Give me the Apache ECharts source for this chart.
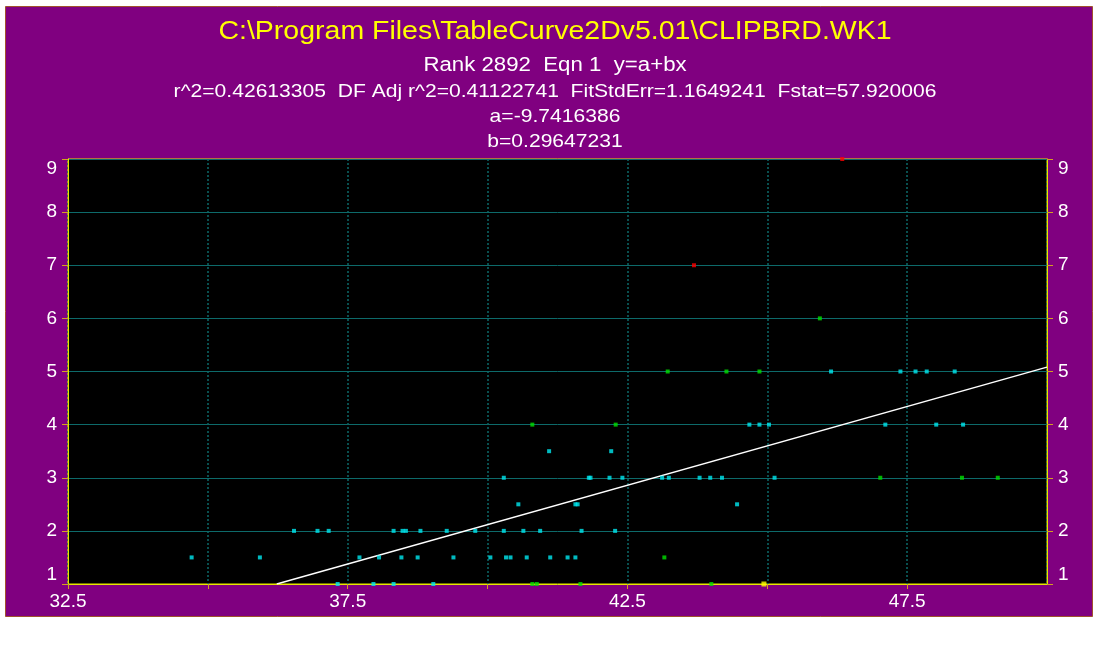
<!DOCTYPE html>
<html>
<head>
<meta charset="utf-8">
<title>CLIPBRD.WK1 fit</title>
<script src="https://cdn.jsdelivr.net/npm/echarts@6/dist/echarts.min.js"></script>
<style>
  html, body { margin: 0; padding: 0; background: #ffffff; }
  #chart { width: 1099px; height: 645px; }
</style>
</head>
<body>
<div id="chart"></div>
<script>
// Axis ranges and ticks
const xMin = 32.5, xMax = 50, xStep = 2.5, xLabelStep = 5;
const yMin = 1, yMax = 9, yStep = 1;

// Header lines
const titleText = 'C:\\Program Files\\TableCurve2Dv5.01\\CLIPBRD.WK1';
const rankText = 'Rank 2892  Eqn 1  y=a+bx';
const statsText = 'r^2=0.42613305  DF Adj r^2=0.41122741  FitStdErr=1.1649241  Fstat=57.920006';

// Fitted linear coefficients y = a + b x
const fitA = -9.7416386;
const fitB = 0.29647231;

// Data points grouped by marker colour, [x, y]
const cyanPoints = [
  [34.71, 1.5], [35.93, 1.5], [37.71, 1.5], [38.06, 1.5], [38.46, 1.5], [38.75, 1.5],
  [39.39, 1.5], [40.05, 1.5], [40.33, 1.5], [40.41, 1.5], [40.70, 1.5], [41.12, 1.5],
  [41.43, 1.5], [41.57, 1.5],
  [36.54, 2], [36.96, 2], [37.16, 2], [38.32, 2], [38.48, 2], [38.54, 2], [38.80, 2],
  [39.27, 2], [39.78, 2], [40.29, 2], [40.64, 2], [40.94, 2], [41.68, 2], [42.28, 2],
  [37.32, 1], [37.96, 1], [38.32, 1], [39.03, 1],
  [40.55, 2.5], [41.57, 2.5], [41.61, 2.5], [44.46, 2.5],
  [40.29, 3], [41.81, 3], [41.84, 3], [42.18, 3], [42.41, 3], [43.12, 3], [43.24, 3],
  [43.79, 3], [43.98, 3], [44.19, 3], [45.13, 3],
  [41.10, 3.5], [42.21, 3.5],
  [44.68, 4], [44.86, 4], [45.03, 4], [47.11, 4], [48.02, 4], [48.50, 4],
  [46.14, 5], [47.38, 5], [47.65, 5], [47.85, 5], [48.35, 5]
];
const greenPoints = [
  [40.80, 1], [40.88, 1], [41.66, 1], [44.00, 1],
  [43.16, 1.5],
  [47.02, 3], [48.48, 3], [49.12, 3],
  [40.80, 4], [42.29, 4],
  [43.22, 5], [44.27, 5], [44.86, 5],
  [45.94, 6]
];
const redPoints = [[43.69, 7], [46.34, 9]];
const yellowPoints = [[44.94, 1]];

// Straight fit line across the visible range
const fitLine = [
  [(yMin - fitA) / fitB, yMin],
  [xMax, fitA + fitB * xMax]
];

const chart = echarts.init(document.getElementById('chart'), null, { renderer: 'canvas' });

const axisYellow = '#e6e600';
const tickAmber = '#d4a020';
const gridTeal = '#0d6a6a';
const labelFont = { color: '#ffffff', fontSize: 19, fontFamily: 'Liberation Sans, Arial, sans-serif' };

function yAxisCfg(position, showSplit) {
  return {
    type: 'value', position: position,
    min: yMin, max: yMax, interval: yStep,
    axisLine: { show: true, lineStyle: { color: axisYellow, width: 1 } },
    axisTick: { show: true, inside: false, length: 6, lineStyle: { color: tickAmber } },
    axisLabel: Object.assign({ margin: 11, verticalAlignMaxLabel: 'top', verticalAlignMinLabel: 'bottom' }, labelFont),
    splitLine: { show: showSplit, lineStyle: { color: gridTeal, width: 1, type: 'solid' } }
  };
}

function headerText(text, y, size, color) {
  return {
    type: 'text', x: 555, y: y, scaleX: 1.14, z: 10,
    style: {
      text: text, fill: color, fontSize: size,
      fontFamily: 'Liberation Sans, Arial, sans-serif',
      textAlign: 'center', textVerticalAlign: 'middle'
    }
  };
}

const option = {
  animation: false,
  backgroundColor: '#ffffff',
  graphic: [
    {
      type: 'rect', z: -10,
      shape: { x: 5.5, y: 6.5, width: 1087, height: 610 },
      style: { fill: '#800080', stroke: '#a0522d', lineWidth: 1 }
    },
    headerText(titleText, 32, 25, '#ffff00'),
    headerText(rankText, 66, 19.5, '#ffffff'),
    headerText(statsText, 92, 18.5, '#ffffff'),
    headerText('a=' + fitA, 117, 18.5, '#ffffff'),
    headerText('b=' + fitB, 142, 18.5, '#ffffff')
  ],
  grid: {
    left: 68, right: 52, top: 159, bottom: 61,
    show: true, backgroundColor: '#000000', borderColor: axisYellow, borderWidth: 1
  },
  xAxis: {
    type: 'value', min: xMin, max: xMax, interval: xStep,
    axisLine: { show: true, onZero: false, lineStyle: { color: axisYellow, width: 1 } },
    axisTick: { show: true, inside: false, length: 5, lineStyle: { color: tickAmber } },
    axisLabel: Object.assign({
      margin: 8,
      showMaxLabel: false,
      formatter: function (v) {
        const k = (v - xMin) / xLabelStep;
        return Math.abs(k - Math.round(k)) < 1e-6 && v < xMax ? v.toFixed(1) : '';
      }
    }, labelFont),
    splitLine: { show: true, lineStyle: { color: gridTeal, width: 1.5, type: [2, 2] } }
  },
  yAxis: [yAxisCfg('left', true), yAxisCfg('right', false)],
  series: [
    {
      type: 'line', data: fitLine, showSymbol: false, symbol: 'none',
      lineStyle: { color: '#ffffff', width: 1.5 }, z: 3
    },
    {
      type: 'scatter', data: cyanPoints, symbol: 'rect', symbolSize: 4, clip: false,
      itemStyle: { color: '#00e8f0' }, z: 4
    },
    {
      type: 'scatter', data: greenPoints, symbol: 'rect', symbolSize: 4, clip: false,
      itemStyle: { color: '#00e000' }, z: 4
    },
    {
      type: 'scatter', data: redPoints, symbol: 'rect', symbolSize: 4, clip: false,
      itemStyle: { color: '#ff0000' }, z: 4
    },
    {
      type: 'scatter', data: yellowPoints, symbol: 'rect', symbolSize: 5, clip: false,
      itemStyle: { color: '#ffff00' }, z: 4
    }
  ]
};

chart.setOption(option);
</script>
</body>
</html>
